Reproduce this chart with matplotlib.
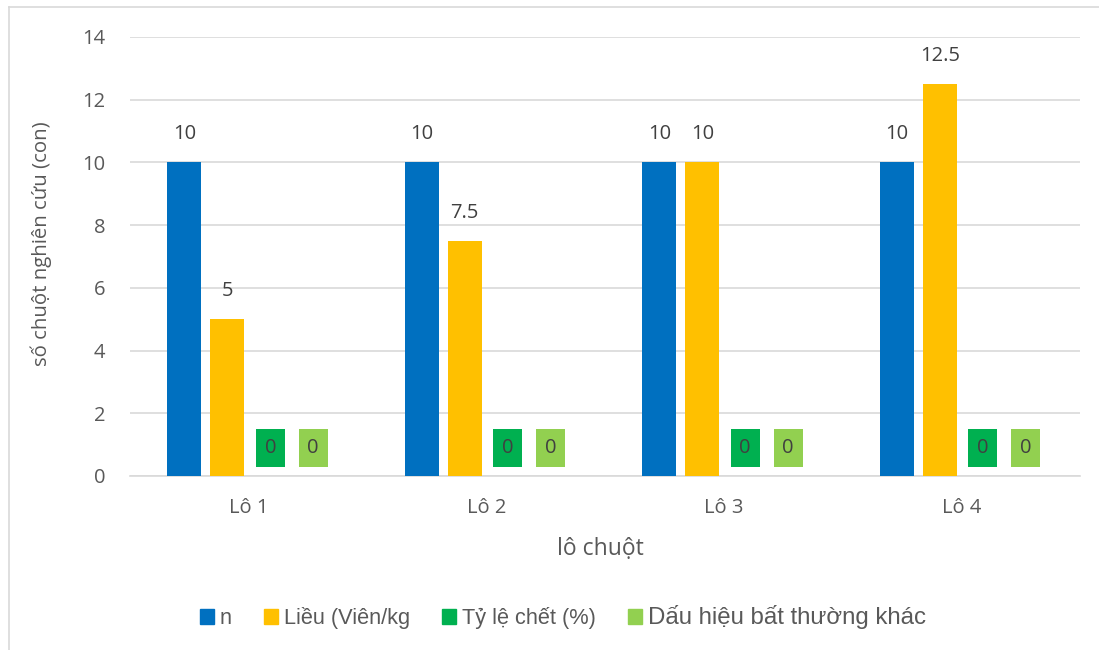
import numpy as np
from matplotlib import pyplot as plt
from matplotlib.lines import Line2D

categories = ['Lô 1', 'Lô 2', 'Lô 3', 'Lô 4']
series_names = ['n', 'Liều (Viên/kg', 'Tỷ lệ chết (%)', 'Dấu hiệu bất thường khác']
n_values = [10, 10, 10, 10]
dose_values = [5, 7.5, 10, 12.5]
death_values = [0, 0, 0, 0]
other_values = [0, 0, 0, 0]
y_ticks = [0, 2, 4, 6, 8, 10, 12, 14]

colors = ['#0070C0', '#FFC000', '#00B050', '#92D050']
font = ['Open Sans', 'DejaVu Sans']
tick_color = '#595959'
label_color = '#404040'

fig = plt.figure(figsize=(10.99, 6.5), dpi=100)
ax = fig.add_axes([0.1183, 0.2677, 0.8644, 0.6754])

x = np.arange(len(categories))
slot = 0.181
width = 0.143
all_values = [n_values, dose_values, death_values, other_values]

for i, vals in enumerate(all_values):
    pos = x + (i - 1.5) * slot
    ax.bar(pos, vals, width, color=colors[i], zorder=3)
    for px, v in zip(pos, vals):
        kw = {}
        if v == 0:
            # zero labels get a filled box in the series colour
            kw['bbox'] = dict(boxstyle='square,pad=0.44', facecolor=colors[i],
                              edgecolor='none')
        ax.annotate('%g' % v, (px, v), xytext=(0, 28), textcoords='offset pixels',
                    ha='center', va='center', fontsize=14.5, color=label_color,
                    family=font, zorder=4, **kw)

ax.set_xlim(-0.5, 3.5)
ax.set_ylim(0, 14)
ax.set_yticks(y_ticks)
ax.set_xticks(x)
ax.set_xticklabels(categories)
ax.yaxis.grid(True, color='#D9D9D9', linewidth=1.2, zorder=0)
for s in ['top', 'right', 'left']:
    ax.spines[s].set_visible(False)
ax.spines['bottom'].set_color('#D9D9D9')
ax.spines['bottom'].set_linewidth(1.2)
ax.tick_params(axis='both', length=0, labelsize=14.5, labelcolor=tick_color)
ax.tick_params(axis='x', pad=16)
ax.tick_params(axis='y', pad=18)
for lab in ax.get_xticklabels() + ax.get_yticklabels():
    lab.set_family(font)

ax.set_xlabel('lô chuột', fontsize=16.5, color=tick_color, family=font)
ax.set_ylabel('số chuột nghiên cứu (con)', fontsize=14.7, color=tick_color,
              family=font)
ax.xaxis.set_label_coords(0.4947, -0.138)
ax.yaxis.set_label_coords(-0.082, 0.53)

handles = [plt.Rectangle((0, 0), 1, 1, color=c) for c in colors]
leg = fig.legend(handles, series_names, loc='center', ncol=4,
                 bbox_to_anchor=(0.5123, 1 - 617 / 650), frameon=False,
                 handlelength=0.64, handleheight=0.64, handletextpad=0.25,
                 columnspacing=1.5,
                 prop={'family': ['Liberation Sans', 'DejaVu Sans'], 'size': 15.7})
for t in leg.get_texts():
    t.set_color(tick_color)
leg.get_texts()[-1].set_fontsize(17.3)

# chart frame (top and left edges)
fig.add_artist(Line2D([9 / 1099, 1], [1 - 7 / 650, 1 - 7 / 650], color='#D9D9D9',
                      linewidth=1.2))
fig.add_artist(Line2D([9 / 1099, 9 / 1099], [0, 1 - 7 / 650], color='#D9D9D9',
                      linewidth=1.2))

plt.savefig('out.png', dpi=100)
